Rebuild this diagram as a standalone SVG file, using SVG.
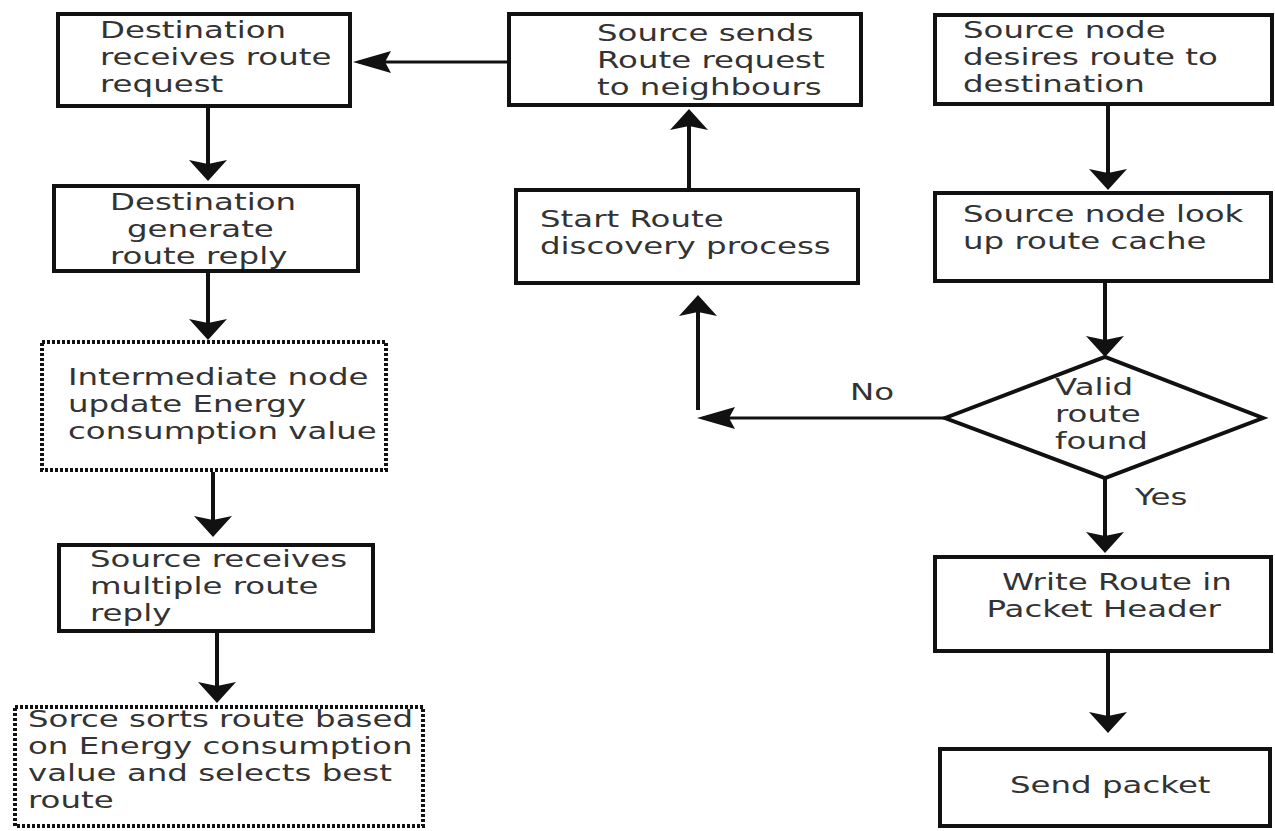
<svg xmlns="http://www.w3.org/2000/svg" width="1275" height="831" viewBox="0 0 1275 831">
<style>
  .box { fill: #ffffff; stroke: #111111; stroke-width: 4; }
  .dot { fill: #ffffff; stroke: #111111; stroke-width: 4; stroke-dasharray: 3 2; }
  .t { font-family: "DejaVu Sans", Verdana, sans-serif; font-size: 23px; fill: #333333; }
  .cv { fill: none; stroke: #111111; stroke-width: 4; }
  .ch { fill: none; stroke: #111111; stroke-width: 3; }
</style>
<defs>
  <marker id="arrV" markerUnits="userSpaceOnUse" viewBox="0 0 21 38" markerWidth="21" markerHeight="38" refX="15" refY="19" orient="auto">
    <path d="M0,0 L21,19 L0,38 L4,19 z" fill="#111111"/>
  </marker>
  <marker id="arrH" markerUnits="userSpaceOnUse" viewBox="0 0 38 22" markerWidth="38" markerHeight="22" refX="32" refY="11" orient="auto">
    <path d="M0,0 L38,11 L0,22 L6,11 z" fill="#111111"/>
  </marker>
</defs>
<rect x="0" y="0" width="1275" height="831" fill="#ffffff"/>

<g id="connectors">
  <line class="ch" x1="507" y1="62" x2="359" y2="62" marker-end="url(#arrH)"/>
  <line class="cv" x1="208" y1="108" x2="208" y2="175" marker-end="url(#arrV)"/>
  <line class="cv" x1="208" y1="273" x2="208" y2="334" marker-end="url(#arrV)"/>
  <line class="cv" x1="213" y1="472" x2="213" y2="531" marker-end="url(#arrV)"/>
  <line class="cv" x1="217" y1="633" x2="217" y2="697" marker-end="url(#arrV)"/>
  <line class="cv" x1="689" y1="188" x2="689" y2="115" marker-end="url(#arrV)"/>
  <line class="cv" x1="1108" y1="106" x2="1108" y2="184" marker-end="url(#arrV)"/>
  <line class="cv" x1="1105" y1="283" x2="1105" y2="351" marker-end="url(#arrV)"/>
  <line class="ch" x1="945" y1="418" x2="703" y2="418" marker-end="url(#arrH)"/>
  <line class="cv" x1="698" y1="410" x2="698" y2="301" marker-end="url(#arrV)"/>
  <line class="cv" x1="1105" y1="478" x2="1105" y2="547" marker-end="url(#arrV)"/>
  <line class="cv" x1="1108" y1="653" x2="1108" y2="727" marker-end="url(#arrV)"/>
  <text class="t" transform="translate(850 400) scale(1.41 1)">No</text>
  <text class="t" transform="translate(1135 505) scale(1.41 1)">Yes</text>
</g>

<g id="n-dest-receives">
  <rect class="box" x="58" y="14" width="292" height="92"/>
  <text class="t" transform="translate(100 38) scale(1.41 1)"><tspan x="0" y="0">Destination</tspan><tspan x="0" y="27">receives route</tspan><tspan x="0" y="54">request</tspan></text>
</g>

<g id="n-dest-generate">
  <rect class="box" x="54" y="186" width="304" height="85"/>
  <text class="t" transform="translate(110 210) scale(1.41 1)"><tspan x="0" y="0">Destination</tspan><tspan x="12" y="27">generate</tspan><tspan x="0" y="54">route reply</tspan></text>
</g>

<g id="n-intermediate">
  <rect class="dot" x="42" y="342" width="344" height="128"/>
  <text class="t" transform="translate(68 385) scale(1.41 1)"><tspan x="0" y="0">Intermediate node</tspan><tspan x="0" y="27">update Energy</tspan><tspan x="0" y="54">consumption value</tspan></text>
</g>

<g id="n-source-receives">
  <rect class="box" x="59" y="545" width="314" height="86"/>
  <text class="t" transform="translate(90 567) scale(1.41 1)"><tspan x="0" y="0">Source receives</tspan><tspan x="0" y="27">multiple route</tspan><tspan x="0" y="54">reply</tspan></text>
</g>

<g id="n-sorce-sorts">
  <rect class="dot" x="15" y="707" width="408" height="119"/>
  <text class="t" transform="translate(28 727) scale(1.41 1)"><tspan x="0" y="0">Sorce sorts route based</tspan><tspan x="0" y="27">on Energy consumption</tspan><tspan x="0" y="54">value and selects best</tspan><tspan x="0" y="81">route</tspan></text>
</g>

<g id="n-source-sends">
  <rect class="box" x="509" y="14" width="352" height="91"/>
  <text class="t" transform="translate(597 41) scale(1.41 1)"><tspan x="0" y="0">Source sends</tspan><tspan x="0" y="27">Route request</tspan><tspan x="0" y="54">to neighbours</tspan></text>
</g>

<g id="n-start-discovery">
  <rect class="box" x="516" y="190" width="342" height="93"/>
  <text class="t" transform="translate(540 227) scale(1.41 1)"><tspan x="0" y="0">Start Route</tspan><tspan x="0" y="27">discovery process</tspan></text>
</g>

<g id="n-source-desires">
  <rect class="box" x="935" y="15" width="337" height="89"/>
  <text class="t" transform="translate(963 38) scale(1.41 1)"><tspan x="0" y="0">Source node</tspan><tspan x="0" y="27">desires route to</tspan><tspan x="0" y="54">destination</tspan></text>
</g>

<g id="n-lookup-cache">
  <rect class="box" x="935" y="193" width="336" height="88"/>
  <text class="t" transform="translate(963 222) scale(1.41 1)"><tspan x="0" y="0">Source node look</tspan><tspan x="0" y="27">up route cache</tspan></text>
</g>

<g id="n-valid-route">
  <polygon class="box" points="945,418 1105,357 1263,418 1105,478"/>
  <text class="t" transform="translate(1055 395) scale(1.41 1)"><tspan x="0" y="0">Valid</tspan><tspan x="0" y="27">route</tspan><tspan x="0" y="54">found</tspan></text>
</g>

<g id="n-write-route">
  <rect class="box" x="935" y="557" width="336" height="94"/>
  <text class="t" transform="translate(1002 590) scale(1.41 1)"><tspan x="0" y="0">Write Route in</tspan><tspan x="-11" y="27">Packet Header</tspan></text>
</g>

<g id="n-send-packet">
  <rect class="box" x="940" y="749" width="330" height="77"/>
  <text class="t" transform="translate(1010 793) scale(1.41 1)">Send packet</text>
</g>
</svg>
